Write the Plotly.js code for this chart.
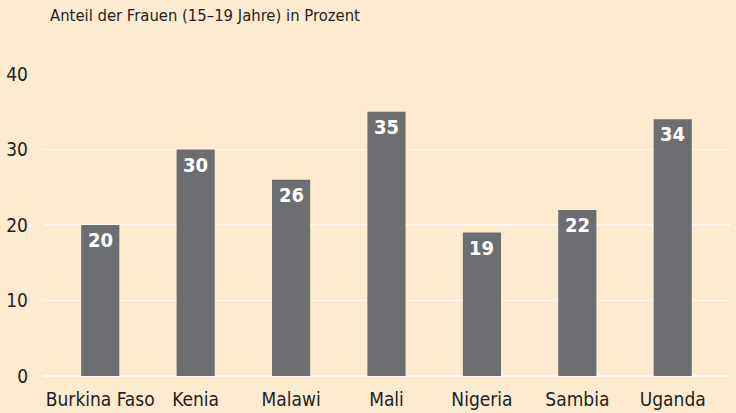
<!DOCTYPE html>
<html>
<head>
<meta charset="utf-8">
<script src="https://cdn.plot.ly/plotly-3.0.1.min.js"></script>
<style>
html,body{margin:0;padding:0;background:#FDEBD0;}
#chart{width:736px;height:413px;}
</style>
</head>
<body>
<div id="chart"></div>
<script>
var countries = ["Burkina Faso", "Kenia", "Malawi", "Mali", "Nigeria", "Sambia", "Uganda"];
var values = [20, 30, 26, 35, 19, 22, 34];
var yTicks = [0, 10, 20, 30, 40];
var chartTitle = "Anteil der Frauen (15–19 Jahre) in Prozent";

var FONT = "'Liberation Sans Narrow', 'DejaVu Sans Condensed', 'Roboto Condensed', 'Arial Narrow', sans-serif";
var BG = "#FDEBD0";
var BAR = "#6D6E72";
var TXT = "#231F20";

var trace = {
  type: "bar",
  x: countries,
  y: values,
  marker: {color: BAR, line: {width: 0}},
  width: 0.4,
  hoverinfo: "none"
};

var annotations = countries.map(function(c, i){
  return {
    x: c, y: values[i], xref: "x", yref: "y",
    text: "<b>" + values[i] + "</b>",
    showarrow: false, yanchor: "top", yshift: -1,
    font: {family: FONT, size: 20, color: "#FFFFFF"}
  };
});
annotations.push({
  xref: "paper", yref: "paper", x: 0, y: 1, xanchor: "left", yanchor: "bottom",
  xshift: 5, yshift: 47,
  text: chartTitle, showarrow: false,
  font: {family: FONT, size: 16.5, color: TXT}
});

var layout = {
  width: 736, height: 413,
  paper_bgcolor: BG, plot_bgcolor: BG,
  margin: {l: 43, r: 6, t: 74, b: 37, pad: 0},
  showlegend: false,
  font: {family: FONT, size: 19, color: TXT},
  xaxis: {
    type: "category", range: [-0.6, 6.6],
    showgrid: false, zeroline: false, showline: false, ticks: "",
    ticklabelstandoff: 10,
    tickfont: {family: FONT, size: 19, color: TXT}
  },
  yaxis: {
    range: [0, 40], tickvals: yTicks, ticktext: yTicks.map(String),
    showgrid: true, gridcolor: "#FFF8EE", gridwidth: 1.2,
    zeroline: true, zerolinecolor: "#FFF8EE", zerolinewidth: 1.2,
    showline: false, ticks: "", ticklabelstandoff: 14,
    tickfont: {family: FONT, size: 19, color: TXT}
  },
  annotations: annotations,
  bargap: 0.6
};

Plotly.newPlot("chart", [trace], layout, {staticPlot: true, displayModeBar: false});
</script>
</body>
</html>
